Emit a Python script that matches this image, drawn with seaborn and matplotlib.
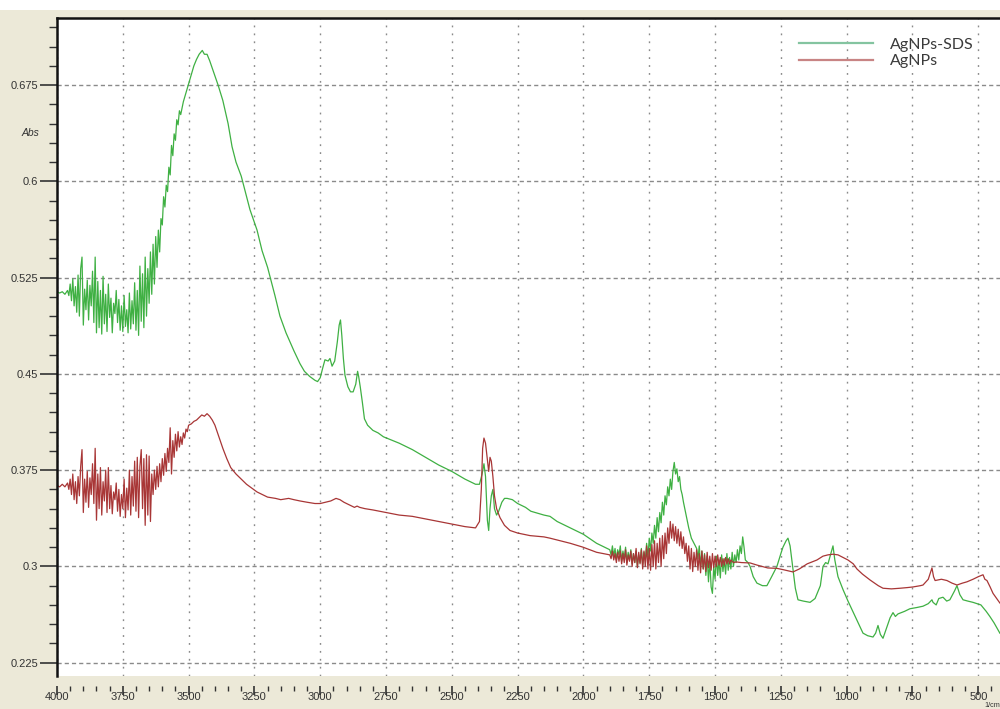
import numpy as np
import pandas as pd
import matplotlib
matplotlib.use("Agg")
import matplotlib.pyplot as plt
from matplotlib.ticker import FixedLocator, MultipleLocator
from matplotlib.lines import Line2D
from matplotlib.patches import Rectangle
import seaborn as sns

# ---------------- data: FTIR absorbance spectra ----------------
sds_wn = [
    4000, 3990, 3980, 3970, 3960, 3955,
    3950, 3945, 3940, 3935, 3930, 3925, 3920, 3915, 3910, 3905, 3900, 3895, 3890, 3885,
    3880, 3875, 3870, 3865, 3860, 3855, 3850, 3845, 3840, 3835, 3830, 3825, 3820, 3815,
    3810, 3805, 3800, 3795, 3790, 3785, 3780, 3775, 3770, 3765, 3760, 3755, 3750, 3745,
    3740, 3735, 3730, 3725, 3720, 3715, 3710, 3705, 3700, 3695, 3690, 3685, 3680, 3675,
    3670, 3665, 3660, 3655, 3650, 3645, 3640, 3635, 3630, 3625, 3620, 3615, 3610, 3605,
    3600, 3595, 3590, 3585, 3580, 3575, 3570, 3565, 3560, 3555, 3550, 3545, 3540, 3535,
    3530, 3520, 3510, 3500, 3490, 3480, 3470, 3460, 3448, 3440, 3430, 3420, 3410, 3400,
    3388, 3370, 3350, 3335, 3320, 3300, 3267, 3240, 3221, 3200, 3172, 3153, 3130, 3115,
    3100, 3077, 3060, 3040, 3020, 3010, 3000, 2990, 2982, 2970, 2963, 2955, 2945, 2935,
    2928, 2923, 2918, 2912, 2906, 2895, 2885, 2875, 2865, 2858, 2854, 2848, 2840, 2832,
    2820, 2800, 2780, 2760, 2700, 2650, 2600, 2550, 2500, 2450, 2410, 2395, 2385, 2378,
    2372, 2365, 2360, 2355, 2350, 2344, 2338, 2330, 2322, 2310, 2300, 2290, 2270, 2250,
    2220, 2200, 2150, 2127, 2100, 2050, 2000, 1950,
    1900, 1895, 1890, 1885, 1880, 1875, 1870, 1865, 1860, 1855, 1850, 1845, 1840, 1835,
    1830, 1825, 1820, 1815, 1810, 1805, 1800, 1795, 1790, 1785, 1780, 1775, 1770, 1765,
    1760, 1755, 1750, 1745, 1740, 1735, 1730, 1725, 1720, 1715, 1710, 1705, 1700, 1695,
    1690, 1685, 1680, 1675, 1670, 1665, 1660, 1655, 1650, 1645, 1640, 1635, 1630, 1625,
    1620, 1610, 1600, 1590, 1580, 1570, 1565, 1560, 1555, 1550, 1545, 1540, 1535, 1530,
    1525, 1520, 1515, 1510, 1505, 1500, 1495, 1490, 1485, 1480, 1475, 1470, 1465, 1460,
    1455, 1450, 1445, 1440, 1435, 1430, 1425, 1420, 1415, 1410, 1405, 1400, 1395, 1390,
    1385, 1375, 1367, 1355, 1341, 1320, 1303, 1285, 1265, 1250, 1242, 1230, 1223, 1215,
    1204, 1195, 1185, 1165, 1139, 1120, 1100, 1090, 1080, 1071, 1060, 1052, 1045, 1033,
    1020, 1014, 995, 970, 950, 938, 920, 900, 890, 881, 872, 862, 850, 835,
    824, 815, 805, 780, 760, 733, 710, 690, 676, 672, 660, 650, 634, 620,
    608, 590, 581, 570, 558, 540, 520, 505, 490, 482, 470, 456, 440, 418,
]
sds_abs = [
    0.514, 0.513, 0.514, 0.512, 0.515, 0.511,
    0.520, 0.507, 0.524, 0.503, 0.518, 0.498, 0.527, 0.495, 0.532, 0.541, 0.488, 0.516, 0.500, 0.523,
    0.492, 0.519, 0.503, 0.530, 0.490, 0.541, 0.482, 0.522, 0.486, 0.515, 0.481, 0.526, 0.489, 0.512,
    0.483, 0.520, 0.494, 0.509, 0.482, 0.505, 0.497, 0.515, 0.490, 0.508, 0.484, 0.503, 0.483, 0.511,
    0.487, 0.500, 0.482, 0.513, 0.485, 0.507, 0.489, 0.521, 0.484, 0.515, 0.480, 0.534, 0.491, 0.528,
    0.486, 0.541, 0.495, 0.532, 0.505, 0.545, 0.512, 0.551, 0.520, 0.557, 0.533, 0.562, 0.545, 0.571,
    0.566, 0.588, 0.580, 0.597, 0.592, 0.611, 0.605, 0.628, 0.620, 0.637, 0.632, 0.648, 0.644, 0.655,
    0.652, 0.662, 0.669, 0.676, 0.683, 0.690, 0.695, 0.699, 0.702, 0.699, 0.699, 0.694, 0.688, 0.682,
    0.675, 0.663, 0.645, 0.627, 0.615, 0.604, 0.578, 0.562, 0.546, 0.533, 0.511, 0.495, 0.482, 0.475,
    0.468, 0.458, 0.452, 0.448, 0.445, 0.444, 0.447, 0.455, 0.461, 0.460, 0.462, 0.456, 0.460, 0.475,
    0.488, 0.492, 0.480, 0.462, 0.449, 0.440, 0.436, 0.436, 0.442, 0.452, 0.448, 0.440, 0.428, 0.415,
    0.410, 0.406, 0.404, 0.401, 0.396, 0.391, 0.385, 0.379, 0.374, 0.368, 0.364, 0.364, 0.372, 0.380,
    0.370, 0.336, 0.328, 0.345, 0.355, 0.360, 0.345, 0.340, 0.343, 0.350, 0.353, 0.353, 0.352, 0.349,
    0.346, 0.343, 0.340, 0.339, 0.335, 0.330, 0.325, 0.318,
    0.313, 0.309, 0.316, 0.308, 0.314, 0.305, 0.313, 0.309, 0.316, 0.304, 0.312, 0.306, 0.315, 0.303,
    0.311, 0.305, 0.313, 0.302, 0.310, 0.303, 0.312, 0.300, 0.309, 0.303, 0.314, 0.301, 0.311, 0.305,
    0.318, 0.307, 0.322, 0.312, 0.326, 0.318, 0.332, 0.322, 0.338, 0.327, 0.342, 0.334, 0.350, 0.340,
    0.355, 0.348, 0.362, 0.355, 0.368, 0.360, 0.374, 0.381, 0.372, 0.376, 0.366, 0.370, 0.360, 0.356,
    0.350, 0.340, 0.330, 0.322, 0.318, 0.314, 0.306, 0.316, 0.300, 0.312, 0.298, 0.310, 0.293, 0.308,
    0.288, 0.305, 0.284, 0.279, 0.300, 0.290, 0.308, 0.293, 0.305, 0.291, 0.309, 0.296, 0.306, 0.294,
    0.310, 0.297, 0.307, 0.298, 0.311, 0.300, 0.309, 0.303, 0.313, 0.305, 0.316, 0.310, 0.323, 0.315,
    0.305, 0.303, 0.300, 0.292, 0.287, 0.285, 0.285, 0.292, 0.300, 0.310, 0.315, 0.320, 0.322, 0.316,
    0.298, 0.283, 0.274, 0.273, 0.272, 0.275, 0.285, 0.300, 0.303, 0.302, 0.310, 0.316, 0.305, 0.292,
    0.285, 0.282, 0.273, 0.262, 0.253, 0.248, 0.246, 0.245, 0.248, 0.254, 0.247, 0.244, 0.251, 0.260,
    0.264, 0.261, 0.263, 0.265, 0.267, 0.268, 0.269, 0.271, 0.274, 0.272, 0.270, 0.275, 0.276, 0.273,
    0.274, 0.281, 0.285, 0.278, 0.274, 0.273, 0.272, 0.271, 0.270, 0.268, 0.265, 0.261, 0.256, 0.248,
]

ag_wn = [
    4000, 3990, 3980, 3970, 3960, 3955,
    3950, 3945, 3940, 3935, 3930, 3925, 3920, 3915, 3910, 3905, 3900, 3895, 3890, 3885,
    3880, 3875, 3870, 3865, 3860, 3855, 3850, 3845, 3840, 3835, 3830, 3825, 3820, 3815,
    3810, 3805, 3800, 3795, 3790, 3785, 3780, 3775, 3770, 3765, 3760, 3755, 3750, 3745,
    3740, 3735, 3730, 3725, 3720, 3715, 3710, 3705, 3700, 3695, 3690, 3685, 3680, 3675,
    3670, 3665, 3660, 3655, 3650, 3645, 3640, 3635, 3630, 3625, 3620, 3615, 3610, 3605,
    3600, 3595, 3590, 3585, 3580, 3575, 3570, 3565, 3560, 3555, 3550, 3545, 3540, 3535,
    3530, 3525, 3520, 3515, 3510, 3505, 3500, 3490, 3480, 3470, 3460, 3450, 3440, 3430,
    3420, 3410, 3400, 3385, 3370, 3355, 3340, 3320, 3300, 3280, 3260, 3240, 3220, 3200,
    3170, 3150, 3120, 3100, 3077, 3050, 3020, 3000, 2980, 2960, 2940, 2925, 2910, 2890,
    2870, 2860, 2850, 2830, 2800, 2750, 2700, 2650, 2600, 2550, 2500, 2450, 2410, 2395,
    2388, 2383, 2378, 2372, 2366, 2360, 2355, 2350, 2344, 2338, 2330, 2317, 2300, 2279,
    2250, 2203, 2150, 2127, 2050, 2002, 1950, 1937,
    1900, 1895, 1890, 1885, 1880, 1875, 1870, 1865, 1860, 1855, 1850, 1845, 1840, 1835,
    1830, 1825, 1820, 1815, 1810, 1805, 1800, 1795, 1790, 1785, 1780, 1775, 1770, 1765,
    1760, 1755, 1750, 1745, 1740, 1735, 1730, 1725, 1720, 1715, 1710, 1705, 1700, 1695,
    1690, 1685, 1680, 1675, 1670, 1665, 1660, 1655, 1650, 1645, 1640, 1635, 1630, 1625,
    1620, 1615, 1610, 1605, 1600, 1595, 1590, 1585, 1580, 1575, 1570, 1565, 1560, 1555,
    1550, 1545, 1540, 1535, 1530, 1525, 1520, 1515, 1510, 1505, 1500, 1495, 1490, 1485,
    1480, 1475, 1470, 1465, 1460, 1455, 1450, 1445, 1440, 1430, 1420, 1400, 1367, 1340,
    1300, 1265, 1242, 1204, 1180, 1150, 1113, 1090, 1071, 1052, 1033, 1014, 995, 975,
    961, 940, 911, 880, 862, 830, 797, 770, 748, 720, 710, 690, 676, 670,
    664, 640, 619, 600, 581, 560, 543, 520, 500, 482, 475, 467, 455, 444,
    430, 418,
]
ag_abs = [
    0.363, 0.362, 0.364, 0.362, 0.365, 0.360,
    0.368, 0.356, 0.372, 0.352, 0.366, 0.349, 0.370, 0.355, 0.378, 0.391, 0.342, 0.368, 0.350, 0.374,
    0.346, 0.369, 0.356, 0.380, 0.349, 0.392, 0.336, 0.372, 0.345, 0.377, 0.340, 0.366, 0.351, 0.375,
    0.342, 0.377, 0.345, 0.363, 0.341, 0.358, 0.352, 0.365, 0.343, 0.360, 0.339, 0.356, 0.345, 0.368,
    0.338, 0.361, 0.344, 0.375, 0.340, 0.370, 0.347, 0.382, 0.343, 0.385, 0.338, 0.378, 0.391, 0.345,
    0.384, 0.332, 0.387, 0.340, 0.386, 0.335, 0.372, 0.356, 0.375, 0.360, 0.378, 0.362, 0.380, 0.366,
    0.384, 0.371, 0.388, 0.374, 0.392, 0.381, 0.408, 0.372, 0.398, 0.385, 0.403, 0.390, 0.405, 0.393,
    0.401, 0.395, 0.404, 0.400, 0.407, 0.405, 0.410, 0.411, 0.413, 0.414, 0.416, 0.418, 0.417, 0.419,
    0.417, 0.414, 0.410, 0.401, 0.392, 0.384, 0.377, 0.372, 0.368, 0.364, 0.361, 0.358, 0.356, 0.354,
    0.353, 0.352, 0.353, 0.352, 0.351, 0.350, 0.349, 0.349, 0.350, 0.351, 0.353, 0.352, 0.350, 0.348,
    0.346, 0.347, 0.346, 0.345, 0.344, 0.342, 0.340, 0.339, 0.337, 0.335, 0.333, 0.331, 0.330, 0.335,
    0.360, 0.392, 0.400, 0.396, 0.385, 0.374, 0.385, 0.382, 0.370, 0.355, 0.345, 0.338, 0.332, 0.328,
    0.326, 0.324, 0.323, 0.322, 0.318, 0.315, 0.311, 0.3105,
    0.309, 0.306, 0.312, 0.305, 0.310, 0.303, 0.311, 0.304, 0.312, 0.302, 0.310, 0.303, 0.313, 0.301,
    0.309, 0.304, 0.312, 0.300, 0.310, 0.303, 0.314, 0.299, 0.311, 0.302, 0.313, 0.298, 0.312, 0.300,
    0.316, 0.298, 0.314, 0.297, 0.317, 0.300, 0.320, 0.298, 0.318, 0.303, 0.322, 0.300, 0.324, 0.306,
    0.326, 0.310, 0.330, 0.318, 0.335, 0.322, 0.333, 0.320, 0.331, 0.318, 0.329, 0.316, 0.327, 0.314,
    0.323, 0.310, 0.318, 0.304, 0.316, 0.298, 0.314, 0.296, 0.311, 0.300, 0.313, 0.297, 0.310, 0.295,
    0.312, 0.298, 0.309, 0.296, 0.311, 0.299, 0.308, 0.297, 0.310, 0.299, 0.308, 0.300, 0.309, 0.301,
    0.307, 0.300, 0.306, 0.301, 0.307, 0.302, 0.306, 0.302, 0.305, 0.303, 0.3035, 0.303, 0.3027, 0.301,
    0.2988, 0.2985, 0.2975, 0.2957, 0.298, 0.302, 0.305, 0.308, 0.309, 0.3095, 0.309, 0.307, 0.305, 0.302,
    0.298, 0.294, 0.2894, 0.285, 0.283, 0.2825, 0.283, 0.2835, 0.284, 0.285, 0.2855, 0.290, 0.2988, 0.292,
    0.289, 0.290, 0.289, 0.287, 0.2855, 0.287, 0.288, 0.290, 0.292, 0.2935, 0.290, 0.289, 0.284, 0.279,
    0.275, 0.2715,
]

series_names = ["AgNPs-SDS", "AgNPs"]
x_ticks = [4000, 3750, 3500, 3250, 3000, 2750, 2500, 2250, 2000, 1750, 1500, 1250, 1000, 750, 500]
y_ticks = [0.225, 0.3, 0.375, 0.45, 0.525, 0.6, 0.675]
y_tick_labels = ["0.225", "0.3", "0.375", "0.45", "0.525", "0.6", "0.675"]

df = pd.concat([
    pd.DataFrame({"wn": sds_wn, "abs": sds_abs, "sample": series_names[0]}),
    pd.DataFrame({"wn": ag_wn, "abs": ag_abs, "sample": series_names[1]}),
], ignore_index=True)

# ---------------- styling ----------------
plt.rcParams["lines.scale_dashes"] = False
plt.rcParams["font.family"] = ["Liberation Sans", "DejaVu Sans"]

fig = plt.figure(figsize=(10.0, 7.09), dpi=100, facecolor="#ece9d8")
fig.patches.append(Rectangle((0, 1 - 10 / 709), 1, 10 / 709, transform=fig.transFigure,
                             facecolor="white", edgecolor="none", zorder=0))
ax = fig.add_axes([0.057, 0.0465, 0.943, 0.928])
ax.set_facecolor("white")

line_colors = {"AgNPs-SDS": "#3fb043", "AgNPs": "#a83636"}
sns.lineplot(data=df, x="wn", y="abs", hue="sample", palette=line_colors,
             estimator=None, sort=False, linewidth=0.9, legend=False, ax=ax)

ax.set_xlim(4000, 417.5)
ax.set_ylim(0.2146, 0.7272)

# grid: dotted verticals, dashed horizontals
for xv in x_ticks:
    ax.axvline(xv, color="#8a8a8a", linewidth=1.0, linestyle=(0, (1.3, 4.4)), zorder=0)
for yv in y_ticks:
    ax.axhline(yv, color="#8a8a8a", linewidth=1.0, linestyle=(0, (3.0, 2.2)), zorder=0)

ax.xaxis.set_major_locator(FixedLocator(x_ticks))
ax.xaxis.set_minor_locator(MultipleLocator(50))
ax.set_xticklabels([str(v) for v in x_ticks])
ax.yaxis.set_major_locator(FixedLocator(y_ticks))
ax.yaxis.set_minor_locator(FixedLocator(
    [0.24, 0.255, 0.27, 0.285, 0.315, 0.33, 0.345, 0.36, 0.39, 0.405, 0.42, 0.435,
     0.465, 0.48, 0.495, 0.51, 0.54, 0.555, 0.57, 0.585, 0.615, 0.63, 0.645, 0.66,
     0.69, 0.705, 0.72]))
ax.set_yticklabels(y_tick_labels)

for side in ["right", "bottom"]:
    ax.spines[side].set_visible(False)
for side in ["left", "top"]:
    ax.spines[side].set_linewidth(1.8)
    ax.spines[side].set_color("#111111")
ax.spines["bottom"].set_position(("outward", 7))

ax.tick_params(axis="y", which="major", length=12, width=1.2, color="#333333",
               labelsize=8, labelcolor="#333333", pad=1.5)
ax.tick_params(axis="y", which="minor", length=5.5, width=1.0, color="#333333")
ax.tick_params(axis="x", which="major", length=6.5, width=1.2, color="#333333",
               labelsize=8, labelcolor="#333333", pad=-2)
ax.tick_params(axis="x", which="minor", length=3.5, width=1.0, color="#333333")

ax.set_xlabel("")
ax.set_ylabel("")
fig.text(0.030, 1 - 133 / 709, "Abs", fontsize=7.5, style="italic", color="#333333",
         ha="center", va="center")
fig.text(1.0, 0.0, "1/cm", fontsize=5.2, color="#333333", ha="right", va="bottom")

# legend with pale swatches
handles = [Line2D([0], [0], color="#84c4a0", linewidth=1.6),
           Line2D([0], [0], color="#c88484", linewidth=1.6)]
leg = ax.legend(handles, series_names, loc="upper left", bbox_to_anchor=(0.772, 0.992),
                frameon=False, handlelength=4.6, handletextpad=1.1, labelspacing=0.15,
                prop={"family": ["Lato", "DejaVu Sans"], "size": 11.5})
for t in leg.get_texts():
    t.set_color("#3a3a3a")

fig.savefig("out.png", dpi=100, facecolor=fig.get_facecolor())
